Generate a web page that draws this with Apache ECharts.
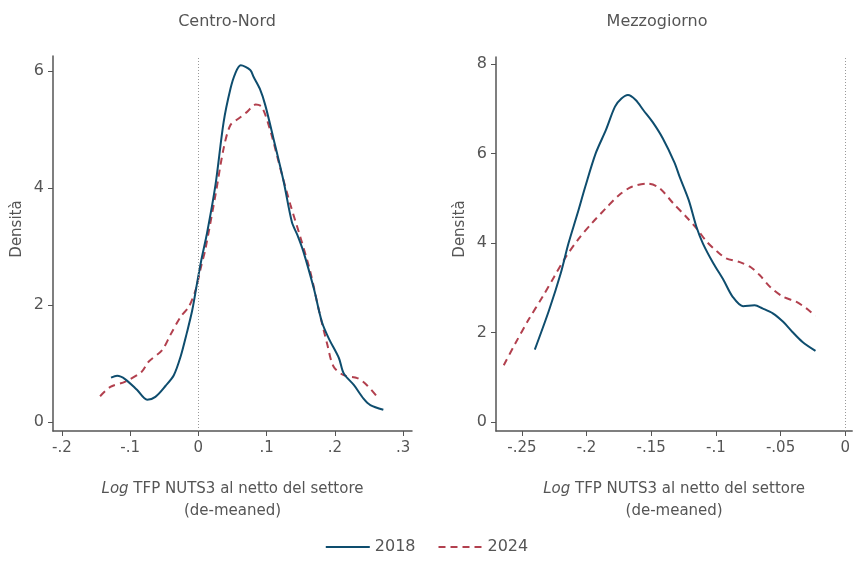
<!DOCTYPE html>
<html>
<head>
<meta charset="utf-8">
<script src="https://cdn.jsdelivr.net/npm/echarts@6/dist/echarts.min.js"></script>
<style>
  html, body { margin: 0; padding: 0; background: #fff; }
  #chart { width: 853px; height: 562px; }
</style>
</head>
<body>
<div id="chart"></div>
<script>
// Centro-Nord, densità 2018 / 2024
const cnX2018 = [-0.128,-0.119,-0.107,-0.090,-0.075,-0.063,-0.048,-0.036,-0.026,-0.017,-0.009,-0.002,0.004,0.013,0.025,0.037,0.047,0.054,0.062,0.076,0.081,0.090,0.098,0.110,0.125,0.137,0.145,0.154,0.169,0.181,0.191,0.206,0.213,0.228,0.242,0.252,0.271]
const cnY2018 = [0.76,0.79,0.73,0.55,0.38,0.43,0.62,0.80,1.12,1.52,1.91,2.37,2.75,3.25,4.05,5.13,5.70,5.96,6.10,6.02,5.90,5.70,5.42,4.85,4.11,3.42,3.20,2.91,2.29,1.71,1.43,1.09,0.83,0.63,0.40,0.29,0.21]
const cnX2024 = [-0.144,-0.129,-0.107,-0.083,-0.073,-0.053,-0.041,-0.026,-0.014,-0.004,0.004,0.010,0.025,0.037,0.047,0.059,0.071,0.084,0.093,0.106,0.120,0.135,0.150,0.164,0.176,0.189,0.198,0.213,0.233,0.247,0.264]
const cnY2024 = [0.44,0.60,0.69,0.86,1.03,1.23,1.49,1.80,1.97,2.26,2.66,2.94,3.88,4.68,5.08,5.19,5.30,5.43,5.39,4.96,4.34,3.71,3.14,2.57,1.94,1.32,0.95,0.80,0.75,0.63,0.40]

// Mezzogiorno
const mzX2018 = [-0.240,-0.229,-0.220,-0.214,-0.207,-0.201,-0.193,-0.185,-0.178,-0.173,-0.168,-0.162,-0.156,-0.149,-0.141,-0.132,-0.128,-0.121,-0.115,-0.110,-0.102,-0.094,-0.087,-0.079,-0.070,-0.064,-0.056,-0.048,-0.041,-0.033,-0.023]
const mzY2018 = [1.62,2.50,3.32,3.99,4.66,5.26,6.00,6.53,7.05,7.23,7.31,7.20,6.97,6.71,6.34,5.80,5.48,4.96,4.36,3.99,3.55,3.17,2.80,2.59,2.61,2.54,2.43,2.24,2.02,1.79,1.59]
const mzX2024 = [-0.264,-0.255,-0.245,-0.234,-0.225,-0.216,-0.206,-0.196,-0.185,-0.175,-0.165,-0.153,-0.144,-0.133,-0.123,-0.115,-0.107,-0.099,-0.092,-0.082,-0.073,-0.066,-0.058,-0.048,-0.038,-0.030,-0.023]
const mzY2024 = [1.27,1.76,2.28,2.80,3.25,3.69,4.10,4.44,4.78,5.07,5.26,5.33,5.24,4.89,4.59,4.33,4.03,3.81,3.66,3.58,3.46,3.28,3.02,2.80,2.69,2.54,2.37]

// tick values
const cnXTicks = [-0.2,-0.1,0,0.1,0.2,0.3]
const mzXTicks = [-0.25,-0.2,-0.15,-0.1,-0.05,0]
const cnYTicks = [0,2,4,6]
const mzYTicks = [0,2,4,6,8]

const years = ['2018', '2024']
const panelTitles = ['Centro-Nord', 'Mezzogiorno']

const BLUE = '#0e4d6e'
const RED = '#b2404e'
const AXIS = '#555'
const TEXT = '#555'
const FONT = 'DejaVu Sans'

const zip = (xs, ys) => xs.map((x, i) => [x, ys[i]])

// stile Stata: niente zero iniziale
const fmtX = v => {
  if (v === 0) return '0'
  return (v < 0 ? '-' : '') + String(Math.abs(v)).replace(/^0/, '')
}

const xAxisBase = (ticks, min, max, idx) => ({
  type: 'value',
  gridIndex: idx,
  min: min,
  max: max,
  name: '{i|Log} TFP NUTS3 al netto del settore\n(de-meaned)',
  nameLocation: 'middle',
  nameGap: 47,
  nameTextStyle: {
    color: TEXT, fontFamily: FONT, fontSize: 15, lineHeight: 22,
    rich: { i: { fontStyle: 'italic', color: TEXT, fontFamily: FONT, fontSize: 15, lineHeight: 22 } }
  },
  axisLine: { show: true, onZero: false, lineStyle: { color: AXIS, width: 1.5 } },
  axisTick: { show: true, length: 5, customValues: ticks, lineStyle: { color: AXIS } },
  axisLabel: { customValues: ticks, formatter: fmtX, color: TEXT, fontFamily: FONT, fontSize: 15, margin: 10 },
  splitLine: { show: false }
})

const yAxisBase = (ticks, min, max, idx) => ({
  type: 'value',
  gridIndex: idx,
  min: min,
  max: max,
  axisLine: { show: true, onZero: false, lineStyle: { color: AXIS, width: 1.5 } },
  axisTick: { show: true, length: 5, customValues: ticks, lineStyle: { color: AXIS } },
  axisLabel: { customValues: ticks, color: TEXT, fontFamily: FONT, fontSize: 16, margin: 9 },
  splitLine: { show: false }
})

const zeroLine = {
  silent: true,
  symbol: 'none',
  label: { show: false },
  lineStyle: { type: [1, 2], color: '#999', width: 1 },
  data: [{ xAxis: 0 }]
}

const lineSeries = (name, data, idx, color, dashed, withZero) => ({
  name: name,
  type: 'line',
  xAxisIndex: idx,
  yAxisIndex: idx,
  data: data,
  smooth: 0.3,
  symbol: 'none',
  lineStyle: { color: color, width: 2, type: dashed ? [7, 5] : 'solid' },
  itemStyle: { color: color },
  markLine: withZero ? zeroLine : undefined,
  z: dashed ? 3 : 4
})

const chart = echarts.init(document.getElementById('chart'), null, { renderer: 'canvas' })

chart.setOption({
  backgroundColor: '#fff',
  animation: false,
  title: [
    { text: panelTitles[0], left: 222, top: 9, textAlign: 'center',
      textStyle: { color: TEXT, fontFamily: FONT, fontSize: 16, fontWeight: 'normal' } },
    { text: panelTitles[1], left: 652, top: 9, textAlign: 'center',
      textStyle: { color: TEXT, fontFamily: FONT, fontSize: 16, fontWeight: 'normal' } }
  ],
  legend: {
    data: years,
    bottom: 2,
    left: 'center',
    itemWidth: 44,
    itemHeight: 14,
    itemGap: 22,
    // solo la linea, niente simbolo
    itemStyle: { opacity: 0 },
    textStyle: { color: TEXT, fontFamily: FONT, fontSize: 16 }
  },
  grid: [
    { left: 53, right: 441, top: 56, bottom: 131 },
    { left: 496, right: 0, top: 57, bottom: 131 }
  ],
  xAxis: [
    xAxisBase(cnXTicks, -0.213, 0.313, 0),
    xAxisBase(mzXTicks, -0.27, 0.0054, 1)
  ],
  yAxis: [
    yAxisBase(cnYTicks, -0.154, 6.26, 0),
    yAxisBase(mzYTicks, -0.2, 8.16, 1)
  ],
  graphic: [
    { type: 'text', x: 17, y: 229, rotation: Math.PI / 2,
      style: { text: 'Densità', fill: TEXT, font: '15px "DejaVu Sans"', align: 'center', verticalAlign: 'middle' } },
    { type: 'text', x: 460, y: 229, rotation: Math.PI / 2,
      style: { text: 'Densità', fill: TEXT, font: '15px "DejaVu Sans"', align: 'center', verticalAlign: 'middle' } }
  ],
  series: [
    lineSeries(years[0], zip(cnX2018, cnY2018), 0, BLUE, false, true),
    lineSeries(years[1], zip(cnX2024, cnY2024), 0, RED, true, false),
    lineSeries(years[0], zip(mzX2018, mzY2018), 1, BLUE, false, true),
    lineSeries(years[1], zip(mzX2024, mzY2024), 1, RED, true, false)
  ]
})
</script>
</body>
</html>
